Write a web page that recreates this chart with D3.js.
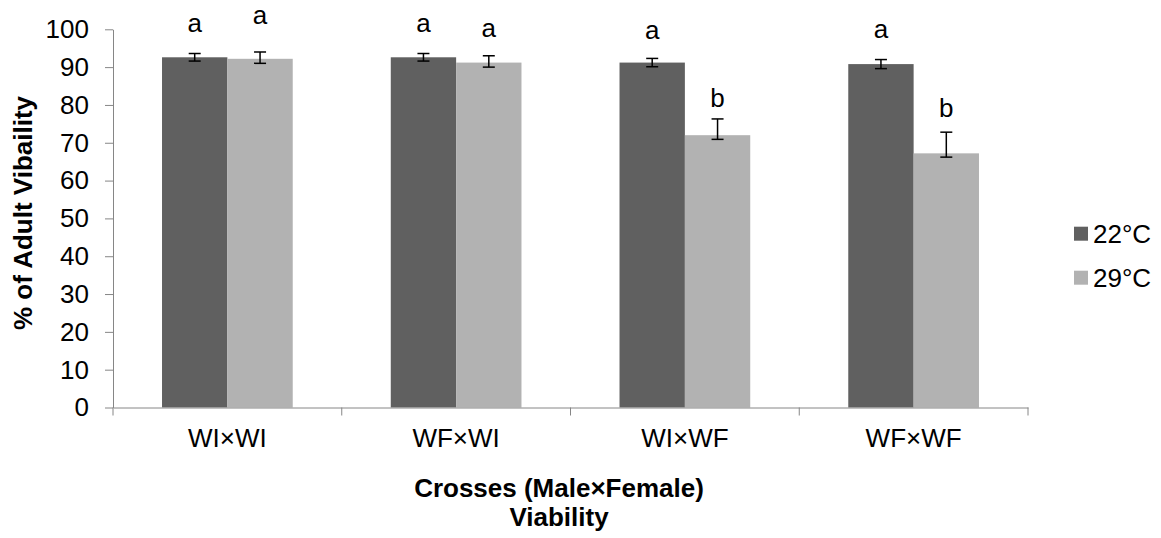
<!DOCTYPE html>
<html>
<head>
<meta charset="utf-8">
<script src="https://cdn.jsdelivr.net/npm/d3@7"></script>
<style>
  body { margin: 0; background: #fff; }
  text { font-family: "Liberation Sans", Arial, sans-serif; }
</style>
</head>
<body>
<div id="my_dataviz"></div>
<script>
// data
const crosses = ["WI×WI", "WF×WI", "WI×WF", "WF×WF"];
const temps = ["22°C", "29°C"];
const viab22 = [92.6, 92.6, 91.2, 90.8];
const viab29 = [92.2, 91.2, 72.0, 67.2];
const errUp22 = [1.0, 1.0, 1.1, 1.2];
const errDown22 = [1.0, 1.0, 1.1, 1.2];
const errUp29 = [1.8, 1.8, 4.3, 5.6];
const errDown29 = [1.2, 1.2, 1.1, 1.0];
const sig22 = ["a", "a", "a", "a"];
const sig29 = ["a", "a", "b", "b"];
const sigAt22 = [99.2, 99.4, 97.4, 97.6];
const sigAt29 = [101.5, 98.0, 79.4, 76.7];
const yTicks = [0, 10, 20, 30, 40, 50, 60, 70, 80, 90, 100];

const colors = {"22°C": "#606060", "29°C": "#b2b2b2"};

// build rows
const data = [];
crosses.forEach((c, i) => {
  data.push({cross: c, temp: "22°C", value: viab22[i], up: errUp22[i], down: errDown22[i], sig: sig22[i], sigAt: sigAt22[i]});
  data.push({cross: c, temp: "29°C", value: viab29[i], up: errUp29[i], down: errDown29[i], sig: sig29[i], sigAt: sigAt29[i]});
});

const W = 1161, H = 538;
const plot = {left: 113, right: 1028, top: 29.3, bottom: 407.5};

const svg = d3.select("#my_dataviz")
  .append("svg")
    .attr("width", W)
    .attr("height", H);

// scales
const x = d3.scaleBand()
  .domain(crosses)
  .range([plot.left, plot.right])
  .padding(0);

const xSub = d3.scaleBand()
  .domain(temps)
  .range([0, x.bandwidth()])
  .paddingInner(0)
  .paddingOuter(0.75);

const y = d3.scaleLinear()
  .domain([0, 100])
  .range([plot.bottom, plot.top]);

const axisColor = "#868686";

// Y axis
const yAxis = svg.append("g")
  .attr("transform", `translate(${plot.left},0)`)
  .call(d3.axisLeft(y).tickValues(yTicks).tickSize(8).tickPadding(16).tickSizeOuter(0));
yAxis.select(".domain").attr("stroke", axisColor);
yAxis.selectAll(".tick line").attr("stroke", axisColor);
yAxis.selectAll(".tick text")
  .attr("font-size", 26)
  .attr("fill", "#000")
  .style("font-family", "Liberation Sans, Arial, sans-serif");

// bars
svg.selectAll("rect.bar")
  .data(data)
  .join("rect")
    .attr("class", "bar")
    .attr("x", d => x(d.cross) + xSub(d.temp))
    .attr("y", d => y(d.value))
    .attr("width", xSub.bandwidth())
    .attr("height", d => y(0) - y(d.value))
    .attr("fill", d => colors[d.temp]);

// X axis labels (no ticks at the centres)
const xAxis = svg.append("g")
  .attr("transform", `translate(0,${plot.bottom})`)
  .call(d3.axisBottom(x).tickSize(0).tickPadding(21).tickSizeOuter(0));
xAxis.select(".domain").attr("stroke", axisColor);
xAxis.selectAll(".tick text")
  .attr("font-size", 26)
  .attr("fill", "#000")
  .style("font-family", "Liberation Sans, Arial, sans-serif");

// category boundary ticks
const edges = crosses.map(c => x(c)).concat([x(crosses[crosses.length - 1]) + x.bandwidth()]);
svg.selectAll("line.xtick")
  .data(edges)
  .join("line")
    .attr("class", "xtick")
    .attr("x1", d => d).attr("x2", d => d)
    .attr("y1", plot.bottom).attr("y2", plot.bottom + 8)
    .attr("stroke", axisColor);

// error bars
const cap = 6;
const eb = svg.selectAll("g.err")
  .data(data)
  .join("g")
    .attr("class", "err")
    .attr("transform", d => `translate(${x(d.cross) + xSub(d.temp) + xSub.bandwidth() / 2},0)`);
eb.append("line")
  .attr("y1", d => y(d.value + d.up)).attr("y2", d => y(d.value - d.down))
  .attr("stroke", "#000").attr("stroke-width", 1.5);
eb.append("line")
  .attr("x1", -cap).attr("x2", cap)
  .attr("y1", d => y(d.value + d.up)).attr("y2", d => y(d.value + d.up))
  .attr("stroke", "#000").attr("stroke-width", 1.5);
eb.append("line")
  .attr("x1", -cap).attr("x2", cap)
  .attr("y1", d => y(d.value - d.down)).attr("y2", d => y(d.value - d.down))
  .attr("stroke", "#000").attr("stroke-width", 1.5);

// significance letters
svg.selectAll("text.sig")
  .data(data)
  .join("text")
    .attr("class", "sig")
    .attr("x", d => x(d.cross) + xSub(d.temp) + xSub.bandwidth() / 2)
    .attr("y", d => y(d.sigAt))
    .attr("text-anchor", "middle")
    .attr("font-size", 26)
    .text(d => d.sig);

// axis titles
svg.append("text")
  .attr("transform", "translate(32,213) rotate(-90)")
  .attr("text-anchor", "middle")
  .attr("font-size", 26)
  .attr("font-weight", "bold")
  .text("% of Adult Vibaility");

svg.append("text")
  .attr("x", 559)
  .attr("y", 497)
  .attr("text-anchor", "middle")
  .attr("font-size", 26)
  .attr("font-weight", "bold")
  .text("Crosses (Male×Female)");

svg.append("text")
  .attr("x", 559)
  .attr("y", 526)
  .attr("text-anchor", "middle")
  .attr("font-size", 26)
  .attr("font-weight", "bold")
  .text("Viability");

// legend
const legend = svg.selectAll("g.legend")
  .data(temps)
  .join("g")
    .attr("class", "legend")
    .attr("transform", (d, i) => `translate(1074,${226.7 + i * 44})`);
legend.append("rect")
  .attr("width", 14).attr("height", 14)
  .attr("fill", d => colors[d]);
legend.append("text")
  .attr("x", 19)
  .attr("y", 7)
  .attr("dy", "0.35em")
  .attr("font-size", 26)
  .text(d => d);
</script>
</body>
</html>
